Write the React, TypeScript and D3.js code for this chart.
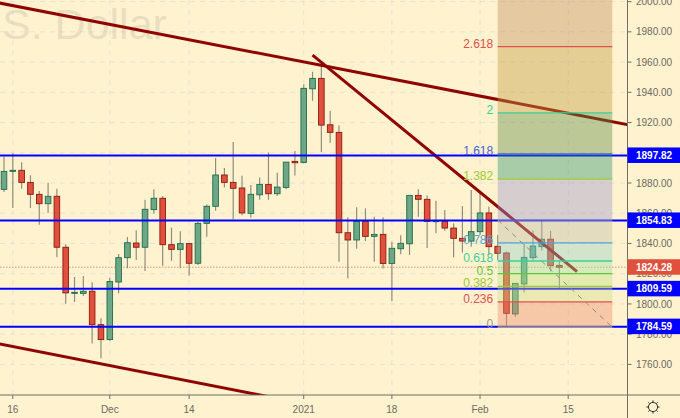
import React from "react";
import * as d3 from "d3";

const W = 680, H = 418, PANE_R = 627.5, PANE_B = 395;
const BG = "#fff2ce";

const opens = [1875.8,1887.7,1888.4,1880.4,1872.5,1866.3,1871.2,1837.5,1807,1807,1808.4,1786.3,1776.4,1814.5,1830.6,1840.3,1837.5,1862.4,1869.9,1839.2,1836.1,1839.9,1826.9,1853.3,1864.6,1885.3,1880.4,1876.7,1859.9,1872.2,1879.1,1872.9,1877.1,1894.3,1893.6,1942.3,1949.2,1918.5,1913.5,1847.1,1842.3,1854.6,1844.7,1846,1826.8,1836.5,1839.8,1871.8,1869.2,1854.4,1854.6,1850.2,1843.4,1841.6,1847.8,1860.2,1838.1,1833.7,1793.4,1813.2,1830.6,1837.9,1842.8,1825.5];
const highs = [1897.4,1899.6,1893.7,1885.1,1874.7,1880.2,1876.2,1839.4,1817.8,1818.5,1814.3,1790.5,1817.4,1833,1844.3,1848.7,1869,1875.8,1871.4,1850.5,1848,1839.9,1854.4,1865.7,1896.5,1889.9,1907.1,1884.8,1878.6,1883.7,1900.2,1886.8,1893.8,1901.1,1945.2,1953.6,1958,1927.8,1918.1,1857.3,1863.9,1863.2,1857.7,1857.3,1841.2,1845.4,1871.8,1875.8,1871.8,1868.3,1862.1,1853.3,1864.7,1875.3,1873.2,1864.3,1845.6,1834.6,1813.7,1839.7,1848.5,1855.1,1848.3,1829.1];
const lows = [1874,1863.5,1876.2,1863.5,1852.4,1860.4,1830.8,1800.2,1801.3,1805.3,1773.8,1764,1775.7,1807,1823.6,1829.1,1821.8,1859.9,1825.3,1828.6,1823.6,1818.7,1825.8,1844.5,1861.7,1877.1,1856,1858.6,1857,1868.9,1868.9,1871.4,1875.8,1885,1893,1934.4,1900.5,1906.6,1827.9,1816.9,1836.5,1841.6,1827.9,1823.5,1802,1832.8,1832.4,1857.7,1837,1846.7,1848.4,1830.8,1833.9,1837.9,1845.6,1832.4,1829.1,1785.5,1791.6,1807.5,1829.1,1835.3,1821.4,1810.3];
const closes = [1887.7,1888.4,1880.4,1872.5,1866.3,1871.2,1837.5,1807.3,1807.7,1808.4,1786.3,1776.4,1814.8,1830.6,1840.5,1837.5,1862.6,1869.9,1839.2,1836.1,1839.9,1826.9,1853.3,1864.6,1885.3,1880.4,1876.5,1860.2,1872.5,1879.1,1872.9,1877.3,1893.8,1893.4,1942.6,1949.2,1918.3,1913.5,1847.1,1842.3,1854.6,1844.7,1846,1826.8,1836.8,1840.1,1871.8,1869.2,1854.6,1855.1,1850.2,1843.4,1841.6,1847.8,1860.2,1837.9,1833.5,1793.8,1813.6,1830.8,1838.3,1842.8,1825.3,1824.28];

const priceTicks = d3.range(1760, 2001, 20);
const timeTicks = [{ i: 1, label: "16" }, { i: 12, label: "Dec" }, { i: 21, label: "14" }, { i: 34, label: "2021" }, { i: 44, label: "18" }, { i: 54, label: "Feb" }, { i: 64, label: "15" }];
const hLevels = [1897.82, 1854.83, 1809.59, 1784.59];
const lastPrice = 1824.28;

const trendLines = [
  { i0: -1, p0: 1999.6, i1: 71, p1: 1918.3 },
  { i0: 35, p0: 1964.6, i1: 65, p1: 1821.4 },
  { i0: -1, p0: 1774.1, i1: 31, p1: 1737.5 },
];

const fibLow = 1784.59, fibHigh = 1855.5;
const fibStartIdx = 56, fibEndIdx = 69;
const fibRatios = [0, 0.236, 0.382, 0.5, 0.618, 0.786, 1, 1.382, 1.618, 2, 2.618, 3.618];
const fibLabels = ["0", "0.236", "0.382", "0.5", "0.618", "0.786", "", "1.382", "1.618", "2", "2.618", ""];
const fibLineColors = ["#999999", "#e0504c", "#9ccc30", "#5fc83a", "#3ccf9a", "#4da6d8", "#999999", "#9ccc30", "#4a5fd8", "#3ccf9a", "#e0504c", "#e0504c"];
const fibFills = ["rgb(233,137,111)", "rgb(203,217,141)", "rgb(182,227,131)", "rgb(152,224,163)", "rgb(142,207,201)", "rgb(187,187,171)", "rgb(152,149,211)", "rgb(38,147,111)", "rgb(87,140,71)", "rgb(190,152,60)", "rgb(190,140,95)"];

const x = d3.scaleLinear().domain([0, 64]).range([4, 568.2]);
const y = d3.scaleLinear().domain([1760, 2000]).range([364.4, 1.6]);
const FONT = "'Liberation Sans', Arial, sans-serif";

export default function App() {
  const fibY = (r: number) => y(fibLow + r * (fibHigh - fibLow));
  const fx0 = x(fibStartIdx), fx1 = x(fibEndIdx);
  const gearTeeth = d3.range(8).map((k) => (k * Math.PI) / 4);
  return (
    <svg width={W} height={H} style={{ position: "fixed", left: 0, top: 0, display: "block" }} fontFamily={FONT}>
      <defs>
        <clipPath id="pane"><rect x={0} y={0} width={PANE_R} height={PANE_B} /></clipPath>
      </defs>
      <rect width={W} height={H} fill={BG} />
      <g clipPath="url(#pane)">
        {priceTicks.map((p) => (
          <line key={p} x1={0} x2={PANE_R} y1={y(p)} y2={y(p)} stroke="#e6e2d6" strokeDasharray="5 5" />
        ))}
        {timeTicks.map((t) => (
          <line key={t.label} x1={x(t.i)} x2={x(t.i)} y1={0} y2={PANE_B} stroke="#e6e2d6" strokeDasharray="5 5" />
        ))}
        <text x={2} y={38.5} fontSize={43} fill="#8c8c8c" fillOpacity={0.2} fontFamily="'Liberation Sans', sans-serif">S. Dollar</text>
        <line x1={0} x2={W} y1={y(lastPrice)} y2={y(lastPrice)} stroke="#e8907c" strokeDasharray="1.5 1.5" />
        {opens.map((o, i) => {
          const c = closes[i], up = c >= o;
          const top = y(Math.max(o, c)), bot = y(Math.min(o, c));
          return (
            <g key={i}>
              <line x1={x(i)} x2={x(i)} y1={y(highs[i])} y2={y(lows[i])} stroke="#8e8e80" strokeWidth={1.2} />
              <rect x={x(i) - 2.8} y={top} width={5.6} height={Math.max(bot - top, 1)}
                fill={up ? "#6ca885" : "#e0503c"} stroke={up ? "#1f6b4d" : "#8b1a10"} strokeWidth={0.9} />
            </g>
          );
        })}
        {trendLines.map((t, k) => (
          <line key={k} x1={x(t.i0)} y1={y(t.p0)} x2={x(t.i1)} y2={y(t.p1)} stroke="#8f0503" strokeWidth={3} />
        ))}
        {hLevels.map((v) => (
          <line key={v} x1={0} x2={PANE_R} y1={y(v) - 0.6} y2={y(v) - 0.6} stroke="#0000ff" strokeWidth={2} />
        ))}
        {fibFills.map((c, k) => (
          <rect key={k} x={fx0} width={fx1 - fx0} y={fibY(fibRatios[k + 1])} height={fibY(fibRatios[k]) - fibY(fibRatios[k + 1])} fill={c} fillOpacity={0.4} />
        ))}
        {fibRatios.map((r, k) => (
          <line key={k} x1={fx0} x2={fx1} y1={fibY(r)} y2={fibY(r)} stroke={fibLineColors[k]} strokeWidth={1.3} strokeOpacity={r === 1 ? 0.3 : 1} />
        ))}
        <line x1={fx0} y1={fibY(1)} x2={fx1} y2={fibY(0)} stroke="#8e8e80" strokeDasharray="5 5" />
        {fibRatios.map((r, k) => fibLabels[k] && (
          <text key={k} x={fx0 - 4.5} y={fibY(r)} dy="0.1em" textAnchor="end" fontSize={12} fill={fibLineColors[k]}>{fibLabels[k]}</text>
        ))}
      </g>
      <line x1={PANE_R} x2={PANE_R} y1={0} y2={H} stroke="#6f6f66" />
      <line x1={0} x2={W} y1={PANE_B} y2={PANE_B} stroke="#6f6f66" />
      {priceTicks.map((p) => (
        <g key={p}>
          <line x1={PANE_R} x2={PANE_R + 4} y1={y(p)} y2={y(p)} stroke="#6f6f66" />
          <text x={636} y={y(p)} dy="0.36em" fontSize={10} fill="#6b6b62">{p.toFixed(2)}</text>
        </g>
      ))}
      {timeTicks.map((t) => (
        <g key={t.label}>
          <line x1={x(t.i)} x2={x(t.i)} y1={PANE_B} y2={PANE_B + 4} stroke="#6f6f66" />
          <text x={x(t.i)} y={412.5} textAnchor="middle" fontSize={10} fill="#6b6b62">{t.label}</text>
        </g>
      ))}
      {hLevels.map((v) => (
        <g key={v}>
          <rect x={PANE_R} y={y(v) - 8.6} width={W - PANE_R} height={15.5} fill="#0000ff" />
          <text x={636} y={y(v) - 0.6} dy="0.36em" fontSize={10} fontWeight="bold" fill="#ffffff">{v.toFixed(2)}</text>
        </g>
      ))}
      <rect x={PANE_R} y={y(lastPrice) - 8} width={W - PANE_R} height={15.5} fill="#e0503c" />
      <text x={636} y={y(lastPrice)} dy="0.36em" fontSize={10} fontWeight="bold" fill="#ffffff">{lastPrice.toFixed(2)}</text>
      <g transform="translate(653,407)" stroke="#333333" fill="none">
        <circle r={4.6} strokeWidth={1} />
        {gearTeeth.map((a, k) => (
          <line key={k} x1={Math.cos(a) * 4.6} y1={Math.sin(a) * 4.6} x2={Math.cos(a) * 6.6} y2={Math.sin(a) * 6.6} strokeWidth={1} />
        ))}
      </g>
    </svg>
  );
}
